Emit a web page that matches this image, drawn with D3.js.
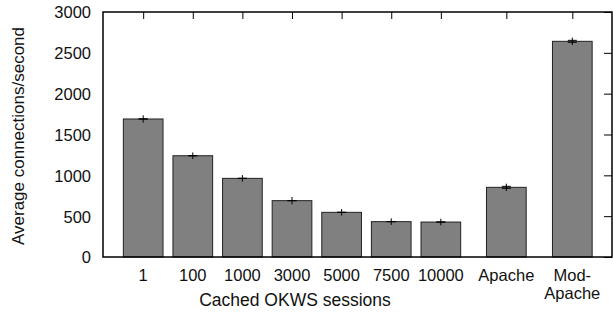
<!DOCTYPE html>
<html><head><meta charset="utf-8">
<script src="https://cdn.jsdelivr.net/npm/d3@7"></script>
<style>body{margin:0;background:#fff}svg{display:block}text{font-family:"Liberation Sans",Arial,sans-serif}</style>
</head><body><svg id="c" width="613" height="312"></svg>
<script>
const categories = ["1","100","1000","3000","5000","7500","10000","Apache","Mod-Apache"];
const xPositions = [0,1,2,3,4,5,6,7.32,8.65];
const values = [1690,1240,963,690,547,433,428,853,2641];
const errors = [45,40,40,45,40,40,40,45,45];
const capOffsets = [0,0,0,0,0,0,0,12,12];
const yTicks = [0,500,1000,1500,2000,2500,3000];
const FS = 16.5;

const svg = d3.select("#c");
const L=103,R=612,T=12,B=257;
const x = d3.scaleLinear().domain([-0.81,9.45]).range([L,R]);
const y = d3.scaleLinear().domain([0,3000]).range([B,T]);
const bw = x(0.8)-x(0);

svg.append("g").selectAll("rect").data(values).join("rect")
  .attr("x",(d,i)=>x(xPositions[i])-bw/2).attr("width",bw)
  .attr("y",d=>y(d)).attr("height",d=>B-y(d))
  .attr("fill","#808080").attr("stroke","#222").attr("stroke-width",1);

const eb = svg.append("g").attr("stroke","#000").attr("stroke-width",1);
values.forEach((v,i)=>{
  const cx=x(xPositions[i]);
  eb.append("line").attr("x1",cx).attr("x2",cx).attr("y1",y(v+errors[i])).attr("y2",y(v-errors[i]));
  [v+capOffsets[i], v-capOffsets[i]].forEach(cv=>{
    eb.append("line").attr("x1",cx-4.5).attr("x2",cx+4.5).attr("y1",y(cv)).attr("y2",y(cv));
  });
});

svg.append("rect").attr("x",L).attr("y",T).attr("width",R-L).attr("height",B-T)
  .attr("fill","none").attr("stroke","#000").attr("stroke-width",1.5);

const rAxis = svg.append("g").attr("transform",`translate(${R},0)`)
  .call(d3.axisLeft(y).tickValues(yTicks).tickSize(8).tickFormat(""));
rAxis.select(".domain").remove();
rAxis.selectAll("line").attr("stroke","#000").attr("stroke-width",1);

const tAxis = svg.append("g").attr("transform",`translate(0,${T})`)
  .call(d3.axisBottom(x).tickValues(xPositions).tickSize(7).tickFormat(""));
tAxis.select(".domain").remove();
tAxis.selectAll("line").attr("stroke","#000").attr("stroke-width",1);

const lAxis = svg.append("g").attr("transform",`translate(${L},0)`)
  .call(d3.axisLeft(y).tickValues(yTicks).tickSize(0).tickPadding(12).tickFormat(d3.format("d")));
lAxis.select(".domain").remove();
lAxis.selectAll("text").attr("font-size",FS).attr("fill","#111").attr("font-family","Liberation Sans, Arial, sans-serif").attr("dy","0.36em");

const xl = svg.append("g");
categories.forEach((c,i)=>{
  const cx=x(xPositions[i]);
  const parts = c==="Mod-Apache" ? ["Mod-","Apache"] : [c];
  parts.forEach((p,j)=>{
    xl.append("text").attr("x",cx).attr("y",281+j*18).attr("text-anchor","middle")
      .attr("font-size",FS).attr("fill","#111").text(p);
  });
});

svg.append("text").attr("x",295).attr("y",306).attr("text-anchor","middle")
  .attr("font-size",17.5).attr("fill","#111").text("Cached OKWS sessions");
svg.append("text").attr("transform",`translate(24,136) rotate(-90)`).attr("text-anchor","middle")
  .attr("font-size",17).attr("fill","#111").text("Average connections/second");
</script></body></html>
